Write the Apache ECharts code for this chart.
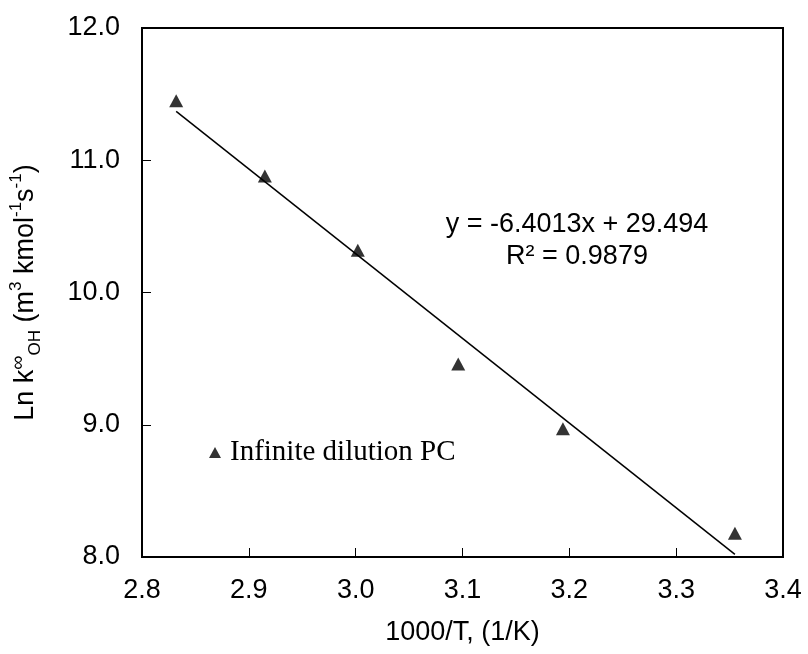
<!DOCTYPE html>
<html>
<head>
<meta charset="utf-8">
<script src="https://cdn.jsdelivr.net/npm/echarts@6/dist/echarts.min.js"></script>
<style>html,body{margin:0;padding:0;background:#fff}#c{width:808px;height:654px}</style>
</head>
<body>
<div id="c"></div>
<script>
var seriesName = 'Infinite dilution PC';
var xValues = [2.832, 2.915, 3.002, 3.096, 3.194, 3.355];
var yValues = [11.45, 10.88, 10.32, 9.46, 8.97, 8.18];
var trendX = [2.832, 3.355];
var trendY = [11.37, 8.02];
var eqText = 'y = -6.4013x + 29.494';
var r2Text = 'R² = 0.9879';
var xTitle = '1000/T, (1/K)';

var chart = echarts.init(document.getElementById('c'), null, {renderer: 'canvas'});
var F = 'Liberation Sans, Arial, sans-serif';
chart.setOption({
  animation: false,
  backgroundColor: '#fff',
  grid: {left: 140, top: 28, right: 25, bottom: 97, show: true, borderColor: '#000', borderWidth: 2, backgroundColor: 'transparent'},
  legend: {
    data: [seriesName], left: 209, top: 438, padding: 0,
    icon: 'triangle', itemWidth: 12, itemHeight: 11, itemGap: 0,
    textStyle: {fontFamily: 'Liberation Serif, Times New Roman, serif', fontSize: 29, color: '#000', padding: [0,0,0,4]}
  },
  xAxis: {
    type: 'value', min: 2.8, max: 3.4, interval: 0.1,
    name: xTitle, nameLocation: 'middle', nameGap: 62,
    nameTextStyle: {fontFamily: F, fontSize: 27, color: '#000'},
    axisLine: {show: true, lineStyle: {color: '#000', width: 2}},
    axisTick: {show: true, inside: true, length: 9, lineStyle: {color: '#000', width: 1}},
    axisLabel: {fontFamily: F, fontSize: 27, color: '#000', margin: 20, formatter: function(v){return v.toFixed(1);}},
    splitLine: {show: false}
  },
  yAxis: {
    type: 'value', min: 8, max: 12, interval: 1,
    name: '{n|Ln k}{inf|∞}{sub|OH}{n| (m}{sup|3}{n| kmol}{sup|-1}{n|s}{sup|-1}{n|)}',
    nameLocation: 'middle', nameRotate: 90, nameGap: 98,
    nameTextStyle: {
      fontFamily: F, fontSize: 27, color: '#000',
      rich: {
        n: {fontFamily: F, fontSize: 27, color: '#000', lineHeight: 36},
        inf: {fontFamily: F, fontSize: 20, color: '#000', lineHeight: 20, verticalAlign: 'top'},
        sup: {fontFamily: F, fontSize: 17, color: '#000', lineHeight: 17, verticalAlign: 'top'},
        sub: {fontFamily: F, fontSize: 17, color: '#000', lineHeight: 17, verticalAlign: 'bottom'}
      }
    },
    axisLine: {show: true, lineStyle: {color: '#000', width: 2}},
    axisTick: {show: true, inside: true, length: 9, lineStyle: {color: '#000', width: 1}},
    axisLabel: {fontFamily: F, fontSize: 27, color: '#000', margin: 22, formatter: function(v){return v.toFixed(1);}},
    splitLine: {show: false}
  },
  series: [
    {
      name: seriesName, type: 'scatter', symbol: 'triangle', symbolSize: [14, 13],
      itemStyle: {color: '#000'},
      data: xValues.map(function(x, i){return [x, yValues[i]];}),
      z: 3
    },
    {
      name: 'trend', type: 'line', symbol: 'none',
      lineStyle: {color: '#000', width: 1.5},
      data: trendX.map(function(x, i){return [x, trendY[i]];}),
      z: 2
    }
  ],
  graphic: [
    {type: 'text', x: 577, y: 209, style: {text: eqText + '\n' + r2Text, fontFamily: F, fontSize: 27, lineHeight: 32, fill: '#000', align: 'center'}}
  ]
});
</script>
</body>
</html>
